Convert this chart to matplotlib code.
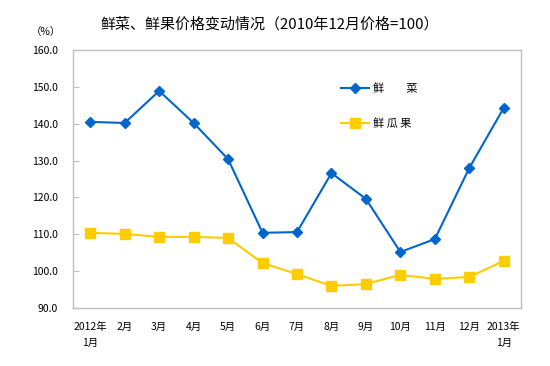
import matplotlib
matplotlib.use("Agg")
import matplotlib.pyplot as plt
import numpy as np

plt.rcParams['font.family'] = ['Noto Sans CJK SC', 'DejaVu Sans']

categories = ["2012年\n1月", "2月", "3月", "4月", "5月", "6月", "7月", "8月", "9月",
              "10月", "11月", "12月", "2013年\n1月"]
vegetables = [140.5, 140.2, 148.9, 140.2, 130.4, 110.4, 110.6, 126.6, 119.6, 105.2, 108.7, 128.0, 144.3]
fruits = [110.4, 110.1, 109.3, 109.3, 109.0, 102.2, 99.2, 96.0, 96.5, 99.0, 97.9, 98.4, 102.8]
yticks = [90, 100, 110, 120, 130, 140, 150, 160]

fig = plt.figure(figsize=(5.5, 3.66), dpi=100)
ax = fig.add_axes([73/550, 1-308/366, 448/550, 258/366])

x = np.arange(len(categories))
ax.plot(x, vegetables, color="#0066CC", marker="D", markersize=5, linewidth=1.5,
        label="鲜　　菜")
ax.plot(x, fruits, color="#FFCC00", marker="s", markersize=6.5, linewidth=1.5,
        label="鲜 瓜 果")

ax.set_xlim(-0.5, len(categories) - 0.5)
ax.set_ylim(90, 160)
ax.set_yticks(yticks)
ax.set_yticklabels([f"{v:.1f}" for v in yticks], fontsize=7.5)
ax.set_xticks(x)
ax.set_xticklabels(categories, fontsize=7.5, linespacing=1.8)
ax.tick_params(axis='y', direction='in', length=4, color="#BFBFBF", pad=11)
ax.tick_params(axis='x', length=0, pad=10)
for s in ax.spines.values():
    s.set_color("#BFBFBF")
    s.set_linewidth(1)

ax.legend(loc="upper left", bbox_to_anchor=(0.575, 0.91), frameon=False,
          fontsize=8, handlelength=2.6, handletextpad=0.3, labelspacing=2.2)

fig.text(0.49, 1-24/366, "鲜菜、鲜果价格变动情况（2010年12月价格=100）", ha="center",
         va="center", fontsize=10.8)
fig.text(46/550, 1-32/366, "（%）", ha="center", va="center", fontsize=7.5)

fig.savefig("out.png", dpi=100)
